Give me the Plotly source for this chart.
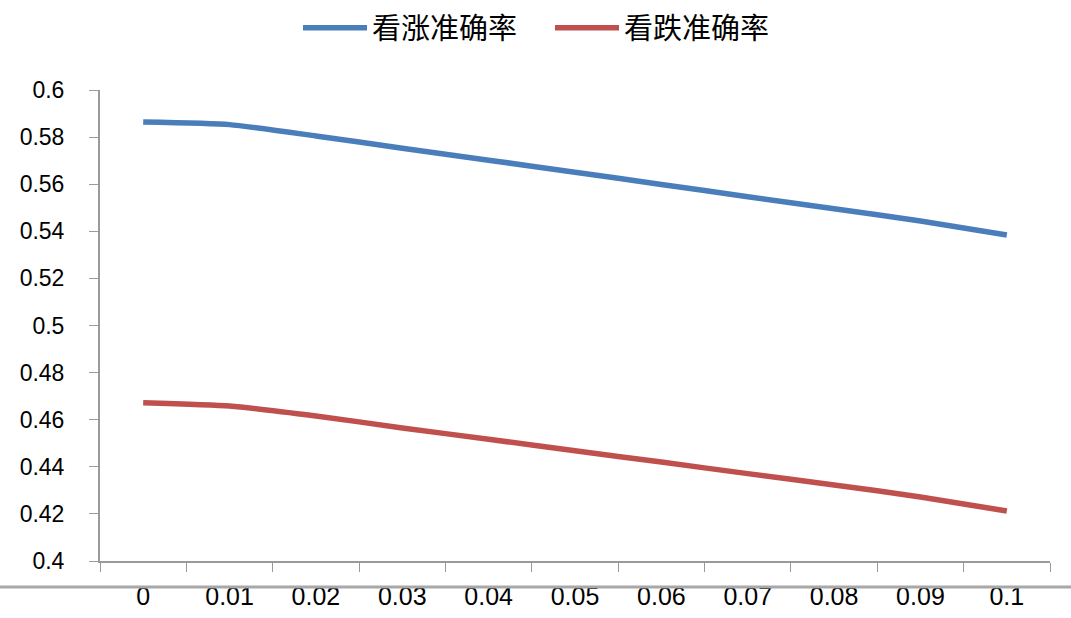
import plotly.graph_objects as go

categories = ["0", "0.01", "0.02", "0.03", "0.04", "0.05", "0.06", "0.07", "0.08", "0.09", "0.1"]
up_accuracy = [0.5864, 0.5853, 0.5805, 0.5753, 0.5702, 0.5651, 0.5599, 0.5547, 0.5496, 0.5444, 0.5384]
down_accuracy = [0.4672, 0.4658, 0.4616, 0.4565, 0.4517, 0.4468, 0.4420, 0.4371, 0.4323, 0.4272, 0.4212]
series_names = ["看涨准确率", "看跌准确率"]
y_ticks = [0.4, 0.42, 0.44, 0.46, 0.48, 0.5, 0.52, 0.54, 0.56, 0.58, 0.6]
y_tick_text = ["0.4", "0.42", "0.44", "0.46", "0.48", "0.5", "0.52", "0.54", "0.56", "0.58", "0.6"]

fig = go.Figure()
fig.add_trace(go.Scatter(x=categories, y=up_accuracy, mode="lines", name=series_names[0],
                         line=dict(color="#4A7EBB", width=5.5, shape="spline", smoothing=0.5)))
fig.add_trace(go.Scatter(x=categories, y=down_accuracy, mode="lines", name=series_names[1],
                         line=dict(color="#C0504D", width=5.5, shape="spline", smoothing=0.5)))

W, H = 1071, 618
ml, mr, mt, mb = 100, 21, 90, 57
pw = W - ml - mr
ph = H - mt - mb
band_y = 587

fig.update_layout(
    width=W, height=H,
    margin=dict(l=ml, r=mr, t=mt, b=mb, autoexpand=False),
    paper_bgcolor="white", plot_bgcolor="white",
    font=dict(family="Liberation Sans, Arial, sans-serif", size=23, color="black"),
    showlegend=True,
    legend=dict(orientation="h", x=(298 - ml) / pw, xanchor="left",
                y=(H - mb - 28) / ph, yanchor="middle",
                font=dict(family="Noto Sans CJK SC", size=29, color="black"),
                itemwidth=64, entrywidth=173, bgcolor="rgba(0,0,0,0)"),
    xaxis=dict(type="category", range=[-0.5, 10.5], tickson="boundaries", ticks="outside",
               ticklen=9, tickcolor="#9a9a9a", showline=True, linecolor="#9a9a9a", linewidth=2,
               showgrid=False, ticklabelstandoff=12,
               tickfont=dict(family="Liberation Sans, Arial", size=25)),
    yaxis=dict(range=[0.4, 0.6], tickvals=y_ticks, ticktext=y_tick_text, ticks="outside",
               ticklen=9, tickcolor="#9a9a9a", showline=True, linecolor="#9a9a9a", linewidth=2,
               showgrid=False, zeroline=False, ticklabelstandoff=20,
               tickfont=dict(family="Liberation Sans, Arial", size=23)),
    shapes=[dict(type="line", xref="paper", yref="paper", layer="above",
                 x0=-ml / pw, x1=(W - ml) / pw,
                 y0=-(band_y - (H - mb)) / ph, y1=-(band_y - (H - mb)) / ph,
                 line=dict(color="#a8a8a8", width=3))],
)

fig.write_html("out.html", config={"displayModeBar": False},
               post_script="document.body.style.margin='0';document.body.style.padding='0';")
